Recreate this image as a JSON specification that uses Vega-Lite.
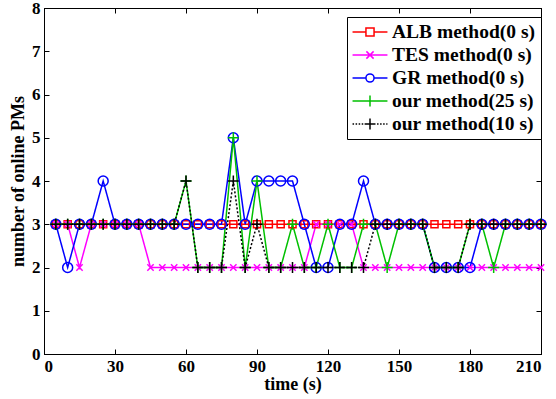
{
  "$schema": "https://vega.github.io/schema/vega-lite/v6.json",
  "width": 497,
  "height": 346,
  "autosize": "none",
  "padding": {"left": 44, "top": 8, "right": 15, "bottom": 45},
  "background": "white",
  "config": {
    "view": {"stroke": "black", "strokeWidth": 1},
    "axis": {
      "grid": false,
      "domainColor": "black",
      "tickColor": "black",
      "domainWidth": 1,
      "tickWidth": 1,
      "labelFont": "Liberation Serif",
      "labelFontWeight": "bold",
      "labelFontSize": 17,
      "labelColor": "black",
      "titleFont": "Liberation Serif",
      "titleFontWeight": "bold",
      "titleFontSize": 18,
      "titleColor": "black"
    }
  },
  "data": {
    "values": [
      {"t": 5, "alb": 3, "tes": 3, "gr": 3, "o25": 3, "o10": 3},
      {"t": 10, "alb": 3, "tes": 3, "gr": 2, "o25": 3, "o10": 3},
      {"t": 15, "alb": 3, "tes": 2, "gr": 3, "o25": 3, "o10": 3},
      {"t": 20, "alb": 3, "tes": 3, "gr": 3, "o25": 3, "o10": 3},
      {"t": 25, "alb": 3, "tes": 3, "gr": 4, "o25": 3, "o10": 3},
      {"t": 30, "alb": 3, "tes": 3, "gr": 3, "o25": 3, "o10": 3},
      {"t": 35, "alb": 3, "tes": 3, "gr": 3, "o25": 3, "o10": 3},
      {"t": 40, "alb": 3, "tes": 3, "gr": 3, "o25": 3, "o10": 3},
      {"t": 45, "alb": 3, "tes": 2, "gr": 3, "o25": 3, "o10": 3},
      {"t": 50, "alb": 3, "tes": 2, "gr": 3, "o25": 3, "o10": 3},
      {"t": 55, "alb": 3, "tes": 2, "gr": 3, "o25": 3, "o10": 3},
      {"t": 60, "alb": 3, "tes": 2, "gr": 3, "o25": 4, "o10": 4},
      {"t": 65, "alb": 3, "tes": 2, "gr": 3, "o25": 2, "o10": 2},
      {"t": 70, "alb": 3, "tes": 2, "gr": 3, "o25": 2, "o10": 2},
      {"t": 75, "alb": 3, "tes": 2, "gr": 3, "o25": 2, "o10": 2},
      {"t": 80, "alb": 3, "tes": 2, "gr": 5, "o25": 5, "o10": 4},
      {"t": 85, "alb": 3, "tes": 2, "gr": 3, "o25": 2, "o10": 2},
      {"t": 90, "alb": 3, "tes": 2, "gr": 4, "o25": 4, "o10": 3},
      {"t": 95, "alb": 3, "tes": 2, "gr": 4, "o25": 2, "o10": 2},
      {"t": 100, "alb": 3, "tes": 2, "gr": 4, "o25": 2, "o10": 2},
      {"t": 105, "alb": 3, "tes": 2, "gr": 4, "o25": 3, "o10": 2},
      {"t": 110, "alb": 3, "tes": 2, "gr": 3, "o25": 2, "o10": 2},
      {"t": 115, "alb": 3, "tes": 3, "gr": 2, "o25": 2, "o10": 2},
      {"t": 120, "alb": 3, "tes": 3, "gr": 2, "o25": 3, "o10": 2},
      {"t": 125, "alb": 3, "tes": 3, "gr": 3, "o25": 2, "o10": 2},
      {"t": 130, "alb": 3, "tes": 3, "gr": 3, "o25": 2, "o10": 2},
      {"t": 135, "alb": 3, "tes": 2, "gr": 4, "o25": 3, "o10": 2},
      {"t": 140, "alb": 3, "tes": 2, "gr": 3, "o25": 3, "o10": 3},
      {"t": 145, "alb": 3, "tes": 2, "gr": 3, "o25": 2, "o10": 3},
      {"t": 150, "alb": 3, "tes": 2, "gr": 3, "o25": 3, "o10": 3},
      {"t": 155, "alb": 3, "tes": 2, "gr": 3, "o25": 3, "o10": 3},
      {"t": 160, "alb": 3, "tes": 2, "gr": 3, "o25": 3, "o10": 3},
      {"t": 165, "alb": 3, "tes": 2, "gr": 2, "o25": 2, "o10": 2},
      {"t": 170, "alb": 3, "tes": 2, "gr": 2, "o25": 2, "o10": 2},
      {"t": 175, "alb": 3, "tes": 2, "gr": 2, "o25": 2, "o10": 2},
      {"t": 180, "alb": 3, "tes": 2, "gr": 2, "o25": 3, "o10": 3},
      {"t": 185, "alb": 3, "tes": 2, "gr": 3, "o25": 3, "o10": 3},
      {"t": 190, "alb": 3, "tes": 2, "gr": 3, "o25": 2, "o10": 3},
      {"t": 195, "alb": 3, "tes": 2, "gr": 3, "o25": 3, "o10": 3},
      {"t": 200, "alb": 3, "tes": 2, "gr": 3, "o25": 3, "o10": 3},
      {"t": 205, "alb": 3, "tes": 2, "gr": 3, "o25": 3, "o10": 3},
      {"t": 210, "alb": 3, "tes": 2, "gr": 3, "o25": 3, "o10": 3}
    ]
  },
  "transform": [{"fold": ["alb", "tes", "gr", "o25", "o10"], "as": ["key", "v"]}],
  "resolve": {"axis": {"x": "independent", "y": "independent"}},
  "layer": [
    {
      "mark": {"type": "line", "strokeWidth": 1.5},
      "encoding": {
        "x": {
          "field": "t", "type": "quantitative",
          "scale": {"domain": [0, 210], "nice": false},
          "axis": {"orient": "bottom", "values": [0, 30, 60, 90, 120, 150, 180, 210], "tickSize": -5, "labelPadding": 9, "title": "time (s)", "titlePadding": 1}
        },
        "y": {
          "field": "v", "type": "quantitative",
          "scale": {"domain": [0, 8], "nice": false},
          "axis": {"orient": "left", "values": [0, 1, 2, 3, 4, 5, 6, 7, 8], "tickSize": -5, "labelPadding": 9, "title": "number of online PMs", "titlePadding": 4}
        },
        "color": {
          "field": "key", "type": "nominal",
          "scale": {"domain": ["alb", "tes", "gr", "o25", "o10"], "range": ["#ff0000", "#ff00ff", "#0000ff", "#00c000", "#000000"]},
          "legend": {
            "orient": "none", "legendX": 303, "legendY": 9, "title": null,
            "symbolSize": 324, "symbolOffset": 8, "labelOffset": 12, "rowPadding": 3, "padding": 5,
            "strokeColor": "black", "fillColor": "white", "symbolStrokeWidth": 1.5, "symbolFillColor": "transparent",
            "labelFont": "Liberation Serif", "labelFontWeight": "bold", "labelFontSize": 19.5, "labelColor": "black",
            "labelExpr": "{'alb':'ALB method(0 s)','tes':'TES method(0 s)','gr':'GR method(0 s)','o25':'our method(25 s)','o10':'our method(10 s)'}[datum.label]",
            "encoding": {
              "symbols": {
                "fill": {"value": "transparent"},
                "shape": {"value": {"expr": "datum.value === 'alb' ? 'M-1.94,0H-0.45M0.45,0H1.94M-0.45,-0.45H0.45V0.45H-0.45Z' : datum.value === 'tes' ? 'M-1.94,0H1.94M-0.4,-0.4L0.4,0.4M-0.4,0.4L0.4,-0.4' : datum.value === 'gr' ? 'M-1.94,0H-0.45M0.45,0H1.94M0.45,0A0.45,0.45,0,1,1,-0.45,0A0.45,0.45,0,1,1,0.45,0Z' : datum.value === 'o25' ? 'M-1.94,0H1.94M0,-0.6V0.6' : 'M-1.94,0h0.17m0.17,0h0.17m0.17,0h0.17m0.17,0h0.17m0.17,0h0.17m0.17,0h0.17m0.17,0h0.17m0.17,0h0.17m0.17,0h0.17m0.17,0h0.17m0.17,0h0.17m0.17,0h0.14M0,-0.6V0.6M-0.6,0H0.6'"}}
              }
            }
          }
        },
        "strokeDash": {
          "field": "key", "type": "nominal",
          "scale": {"domain": ["o10", "o25", "gr", "tes", "alb"], "range": [[2, 2], [1, 0], [1, 0], [1, 0], [1, 0]]},
          "legend": null
        }
      }
    },
    {
      "mark": {"type": "point", "filled": false, "strokeWidth": 1.5, "opacity": 1},
      "encoding": {
        "x": {
          "field": "t", "type": "quantitative",
          "axis": {"orient": "top", "values": [0, 30, 60, 90, 120, 150, 180, 210], "tickSize": -5, "labels": false, "title": null}
        },
        "y": {
          "field": "v", "type": "quantitative",
          "axis": {"orient": "right", "values": [0, 1, 2, 3, 4, 5, 6, 7, 8], "tickSize": -5, "labels": false, "title": null}
        },
        "color": {"field": "key", "type": "nominal"},
        "shape": {
          "field": "key", "type": "nominal",
          "scale": {"domain": ["o10", "o25", "gr", "tes", "alb"], "range": ["M-1,0H1M0,-1V1", "M-1,0H1M0,-1V1", "circle", "M-1,-1L1,1M-1,1L1,-1", "square"]},
          "legend": null
        },
        "size": {
          "field": "key", "type": "nominal",
          "scale": {"type": "ordinal", "domain": ["o10", "o25", "gr", "tes", "alb"], "range": [121, 121, 100, 40, 50]},
          "legend": null
        }
      }
    }
  ]
}
